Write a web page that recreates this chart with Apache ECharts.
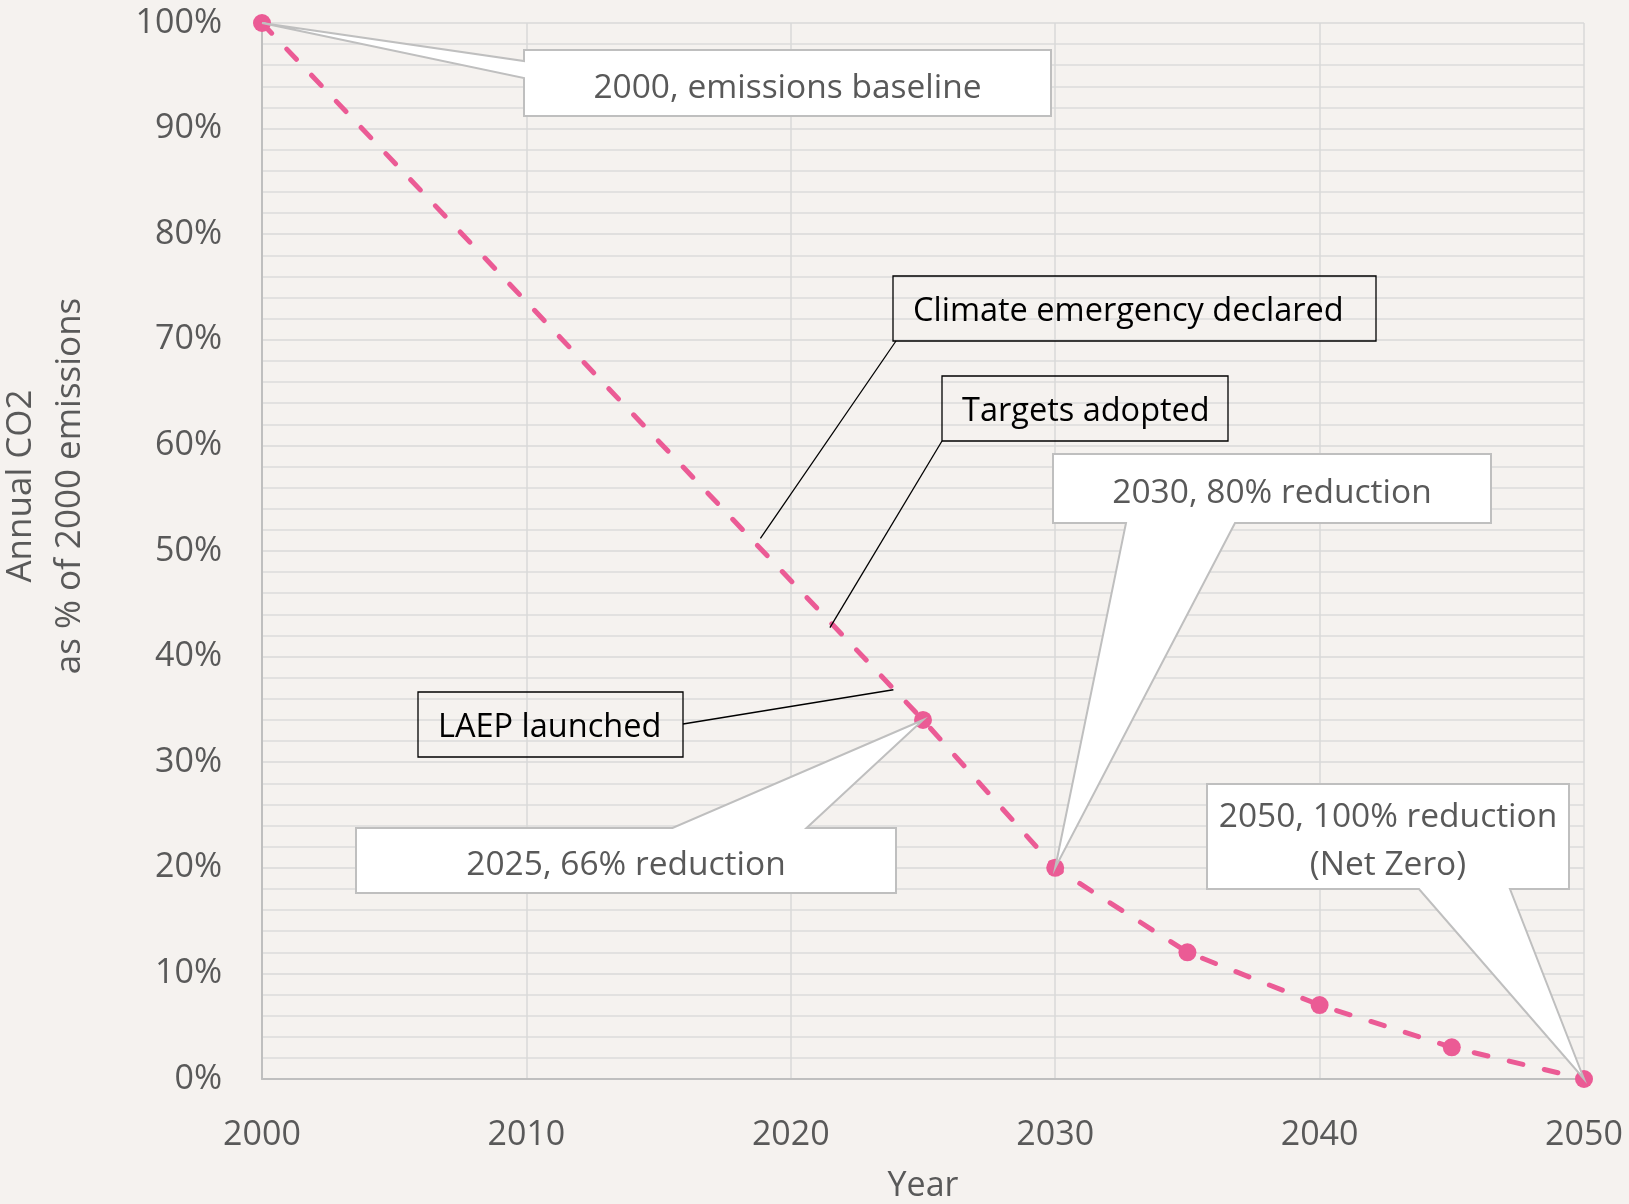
<!DOCTYPE html>
<html>
<head>
<meta charset="utf-8">
<script src="https://cdn.jsdelivr.net/npm/echarts@6/dist/echarts.min.js"></script>
<style>
  html, body { margin: 0; padding: 0; background: #F5F2EF; }
  #main { width: 1629px; height: 1204px; }
</style>
</head>
<body>
<div id="main"></div>
<script>
// ---- data ----
const years = [2000, 2025, 2030, 2035, 2040, 2045, 2050];
const shares = [100, 34, 20, 12, 7, 3, 0];           // % of 2000 emissions
const xAxisTitle = 'Year';
const yAxisTitleLines = ['Annual CO2', 'as % of 2000 emissions'];
const calloutYears = [2000, 2025, 2030, 2050];
const calloutTexts = ['2000, emissions baseline', '2025, 66% reduction', '2030, 80% reduction', '2050, 100% reduction\n(Net Zero)'];
const eventLabels = ['Climate emergency declared', 'Targets adopted', 'LAEP launched'];
const eventYears = [2018.85, 2021.48, 2023.88];
const eventShares = [51.2, 42.75, 36.86];

// ---- layout / style ----
const FONT = '"Open Sans", "Noto Sans", sans-serif';
const PINK = '#EB5B95';
const GREY_TEXT = '#595959';
const calloutLayout = [
  { box: [524, 50, 1051, 116], side: 'left', a: 61, b: 78 },
  { box: [356, 828, 896, 893], side: 'top', a: 672.5, b: 806.5 },
  { box: [1053, 454, 1491, 523], side: 'bottom', a: 1126, b: 1235 },
  { box: [1207, 784, 1569, 889], side: 'bottom', a: 1419, b: 1510 }
];
const eventLayout = [
  { box: [893, 276, 1376, 341], from: [896, 341] },
  { box: [942, 376, 1228, 441], from: [942, 441] },
  { box: [418, 692, 683, 757], from: [683, 724] }
];

const chart = echarts.init(document.getElementById('main'), null, { renderer: 'canvas' });

const option = {
  backgroundColor: '#F5F2EF',
  animation: false,
  textStyle: { fontFamily: FONT },
  grid: { left: 262, right: 45, top: 23, bottom: 125, outerBoundsMode: 'none', containLabel: false },
  xAxis: {
    type: 'value', min: 2000, max: 2050, interval: 10,
    name: xAxisTitle, nameLocation: 'middle', nameGap: 90,
    nameTextStyle: { fontSize: 34, color: GREY_TEXT, fontFamily: FONT },
    axisLine: { show: true, lineStyle: { color: '#BFBFBF', width: 2 } },
    axisTick: { show: false },
    axisLabel: { margin: 39, fontSize: 34, color: GREY_TEXT, fontFamily: FONT, formatter: v => String(v) },
    splitLine: { show: true, lineStyle: { color: '#D9D9D9', width: 1.5 } }
  },
  yAxis: {
    type: 'value', min: 0, max: 100, interval: 10,
    axisLine: { show: true, lineStyle: { color: '#BFBFBF', width: 2 } },
    axisTick: { show: false },
    axisLabel: { margin: 40, fontSize: 34, color: GREY_TEXT, fontFamily: FONT, formatter: '{value}%', padding: [13, 0, 0, 0] },
    splitLine: { show: true, lineStyle: { color: '#D9D9D9', width: 1.5 } },
    minorTick: { show: false, splitNumber: 5 },
    minorSplitLine: { show: true, lineStyle: { color: '#DCDCDC', width: 1.5 } }
  },
  series: [{
    type: 'line',
    data: years.map((y, i) => [y, shares[i]]),
    symbol: 'circle', symbolSize: 18,
    clip: false,
    itemStyle: { color: PINK },
    lineStyle: { color: PINK, width: 5, type: [14, 22], cap: 'round' },
    z: 3
  }]
};
chart.setOption(option);

function px(x, v) { return chart.convertToPixel({ gridIndex: 0 }, [x, v]); }

const graphics = [];

// Y-axis title (two rotated lines)
yAxisTitleLines.forEach((t, i) => {
  graphics.push({
    type: 'text', x: i === 0 ? 21 : 70, y: 486, rotation: Math.PI / 2, z: 5,
    style: { text: t, fill: GREY_TEXT, fontSize: 35, fontFamily: FONT,
      align: 'center', verticalAlign: 'middle', textAlign: 'center', textVerticalAlign: 'middle' }
  });
});

// Data callouts (white boxes with wedge)
calloutYears.forEach((yr, i) => {
  const idx = years.indexOf(yr);
  const tip = px(years[idx], shares[idx]);
  const L = calloutLayout[i];
  const [l, t, r, b] = L.box;
  let pts;
  if (L.side === 'left') pts = [[l, t], [r, t], [r, b], [l, b], [l, L.b], tip, [l, L.a]];
  else if (L.side === 'top') pts = [[l, t], [L.a, t], tip, [L.b, t], [r, t], [r, b], [l, b]];
  else pts = [[l, t], [r, t], [r, b], [L.b, b], tip, [L.a, b], [l, b]];
  graphics.push({
    type: 'polygon', z: 20, shape: { points: pts },
    style: { fill: '#FFFFFF', stroke: '#BFBFBF', lineWidth: 2, lineJoin: 'miter' }
  });
  graphics.push({
    type: 'text', z: 21, x: (l + r) / 2, y: (t + b) / 2 + 5,
    style: { text: calloutTexts[i], fill: GREY_TEXT, fontSize: 33.5, fontFamily: FONT, lineHeight: 48,
      align: 'center', verticalAlign: 'middle', textAlign: 'center', textVerticalAlign: 'middle' }
  });
});

// Event annotations (outlined boxes with connector line)
eventLabels.forEach((lab, i) => {
  const tip = px(eventYears[i], eventShares[i]);
  const L = eventLayout[i];
  const [l, t, r, b] = L.box;
  graphics.push({
    type: 'line', z: 22, shape: { x1: L.from[0], y1: L.from[1], x2: tip[0], y2: tip[1] },
    style: { stroke: '#000000', lineWidth: 1.3 }
  });
  graphics.push({
    type: 'rect', z: 22, shape: { x: l, y: t, width: r - l, height: b - t },
    style: { fill: null, stroke: '#000000', lineWidth: 1.3 }
  });
  graphics.push({
    type: 'text', z: 23, x: l + 20, y: (t + b) / 2 + 3,
    style: { text: lab, fill: '#000000', fontSize: 32.5, fontFamily: FONT,
      align: 'left', verticalAlign: 'middle', textAlign: 'left', textVerticalAlign: 'middle' }
  });
});

chart.setOption({ graphic: { elements: graphics } });
</script>
</body>
</html>
